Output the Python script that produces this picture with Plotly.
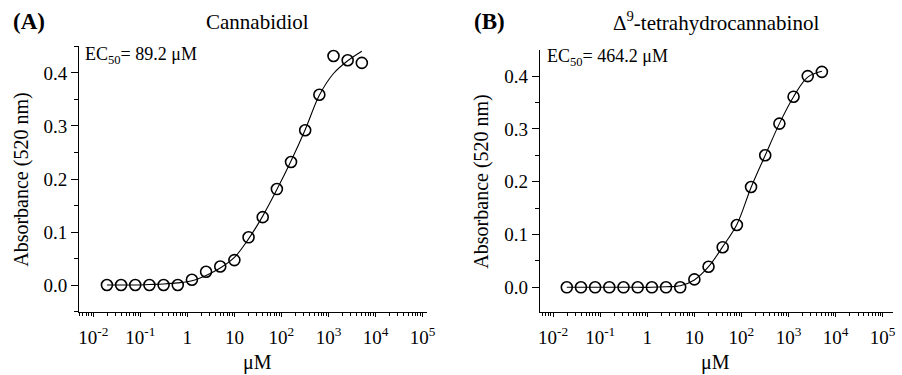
import plotly.graph_objects as go
import math

# ---------------- data ----------------
conc = [0.0195, 0.039, 0.078, 0.156, 0.3125, 0.625, 1.25, 2.5, 5, 10, 20,
        40, 80, 160, 320, 640, 1280, 2560, 5120]

abs_cbd = [0.0, 0.0, 0.0, 0.0, 0.0, 0.0, 0.010, 0.025, 0.035, 0.047, 0.090,
           0.128, 0.181, 0.232, 0.292, 0.359, 0.432, 0.424, 0.419]
fit_cbd = [0.0, 0.0, 0.0, 0.001, 0.002, 0.004, 0.008, 0.018, 0.032, 0.052, 0.087,
           0.130, 0.180, 0.234, 0.293, 0.358, 0.399, 0.423, 0.441]

abs_thc = [0.0, 0.0, 0.0, 0.0, 0.0, 0.0, 0.0, 0.0, 0.0, 0.015, 0.039,
           0.076, 0.118, 0.190, 0.250, 0.310, 0.361, 0.400, 0.408]
fit_thc = [0.0, 0.0, 0.0, 0.0, 0.0, 0.0, 0.0, 0.001, 0.003, 0.014, 0.039,
           0.077, 0.119, 0.189, 0.250, 0.310, 0.361, 0.398, 0.409]

x_tickvals = [0.01, 0.1, 1, 10, 100, 1000, 10000, 100000]
x_ticktext = ["10<sup>-2</sup>", "10<sup>-1</sup>", "1", "10", "10<sup>2</sup>",
              "10<sup>3</sup>", "10<sup>4</sup>", "10<sup>5</sup>"]
y_tickvals = [0.0, 0.1, 0.2, 0.3, 0.4]

titles = ["Cannabidiol", "\u0394<sup>9</sup>-tetrahydrocannabinol"]
panel_labels = ["(A)", "(B)"]
ec50_texts = ["EC<sub>50</sub>= 89.2 \u03bcM", "EC<sub>50</sub>= 464.2 \u03bcM"]

FONT = "Liberation Serif, Times New Roman, serif"
W, H = 902, 375

fig = go.Figure()

# left panel
fig.add_trace(go.Scatter(x=conc, y=fit_cbd, mode="lines", line=dict(color="black", width=1.1, shape="spline"),
                         xaxis="x", yaxis="y", showlegend=False, hoverinfo="skip"))
fig.add_trace(go.Scatter(x=conc, y=abs_cbd, mode="markers",
                         marker=dict(symbol="circle-open", size=11, color="black", line=dict(width=1.6, color="black")),
                         xaxis="x", yaxis="y", showlegend=False))
# right panel
fig.add_trace(go.Scatter(x=conc, y=fit_thc, mode="lines", line=dict(color="black", width=1.1, shape="spline"),
                         xaxis="x2", yaxis="y2", showlegend=False, hoverinfo="skip"))
fig.add_trace(go.Scatter(x=conc, y=abs_thc, mode="markers",
                         marker=dict(symbol="circle-open", size=11, color="black", line=dict(width=1.6, color="black")),
                         xaxis="x2", yaxis="y2", showlegend=False))

def px_x(p):
    return p / W

def px_y(p):
    return 1 - p / H

xaxis_common = dict(
    type="log", showline=True, linecolor="black", linewidth=1.2, mirror=False,
    ticks="outside", ticklen=4, tickwidth=1.1, tickcolor="black",
    tickmode="array", tickvals=x_tickvals, ticktext=x_ticktext,
    tickfont=dict(family=FONT, size=19, color="black"),
    ticklabelstandoff=4,
    showgrid=False, zeroline=False,
    minor=dict(ticks="outside", ticklen=2.5, tickwidth=1, tickcolor="black", dtick="D1", showgrid=False),
)
yaxis_common = dict(
    showline=True, linecolor="black", linewidth=1.2, mirror=False,
    ticks="outside", ticklen=7, tickwidth=1.1, tickcolor="black",
    tickmode="array", tickvals=y_tickvals, tickformat=".1f",
    tickfont=dict(family=FONT, size=19, color="black"),
    showgrid=False, zeroline=False,
    minor=dict(ticks="outside", ticklen=4, tickwidth=1, tickcolor="black", dtick=0.05, showgrid=False),
)

fig.update_layout(
    width=W, height=H,
    margin=dict(l=0, r=0, t=0, b=0),
    paper_bgcolor="white", plot_bgcolor="white",
    font=dict(family=FONT, color="black"),
    xaxis=dict(xaxis_common, domain=[px_x(78), px_x(430)], range=[math.log10(0.005), 5.1], anchor="y"),
    yaxis=dict(yaxis_common, domain=[px_y(312), px_y(46)], range=[-0.0509, 0.4509], anchor="x"),
    xaxis2=dict(xaxis_common, domain=[px_x(544), px_x(901)], range=[-2.28, 5.22], anchor="y2"),
    yaxis2=dict(yaxis_common, domain=[px_y(312.3), px_y(50)], range=[-0.0473, 0.4494], anchor="x2"),
)

ann = []
# panel labels
ann.append(dict(text="<b>(A)</b>", x=px_x(9), y=px_y(22), xanchor="left", yanchor="middle",
                font=dict(size=23, family=FONT)))
ann.append(dict(text="<b>(B)</b>", x=px_x(475), y=px_y(22), xanchor="left", yanchor="middle",
                font=dict(size=23, family=FONT)))
# titles
ann.append(dict(text=titles[0], x=px_x(258), y=px_y(22), xanchor="center", yanchor="middle",
                font=dict(size=21, family=FONT)))
ann.append(dict(text=titles[1], x=px_x(722), y=px_y(22), xanchor="center", yanchor="middle",
                font=dict(size=21, family=FONT)))
# EC50
ann.append(dict(text=ec50_texts[0], x=px_x(82), y=px_y(55), xanchor="left", yanchor="middle",
                font=dict(size=18, family=FONT)))
ann.append(dict(text=ec50_texts[1], x=px_x(549), y=px_y(57), xanchor="left", yanchor="middle",
                font=dict(size=18, family=FONT)))
# axis titles
for xc, yc in [(19, 180), (484, 182)]:
    ann.append(dict(text="Absorbance (520 nm)", x=px_x(xc), y=px_y(yc), xanchor="center", yanchor="middle",
                    textangle=-90, font=dict(size=20, family=FONT)))
for xc in [258, 722]:
    ann.append(dict(text="\u03bcM", x=px_x(xc), y=px_y(362), xanchor="center", yanchor="middle",
                    font=dict(size=20, family=FONT)))

for a in ann:
    a.update(xref="paper", yref="paper", showarrow=False)
fig.update_layout(annotations=ann)

fig.write_html(
    "out.html",
    config={"displayModeBar": False},
    post_script="document.body.style.margin='0';document.body.style.padding='0';document.body.style.overflow='hidden';",
)
